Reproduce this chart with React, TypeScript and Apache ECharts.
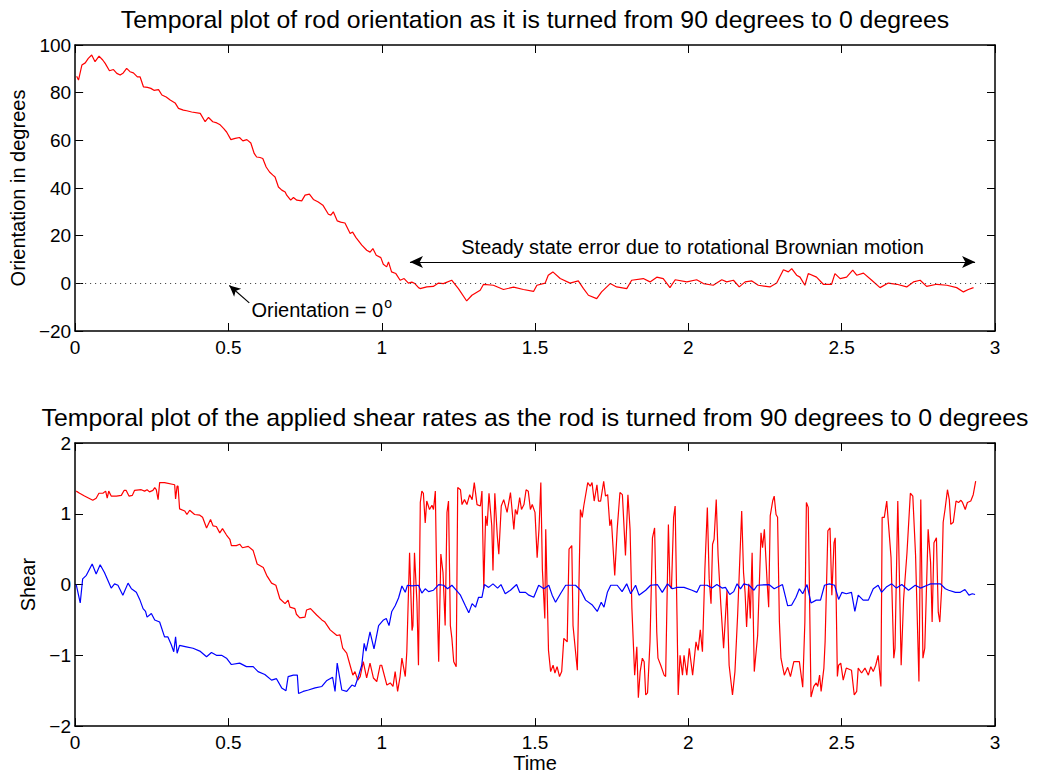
import React, { useEffect, useRef } from 'react';
import * as echarts from 'echarts';

const FONT = '"Liberation Sans", Arial, Helvetica, sans-serif';

const titleTop = 'Temporal plot of rod orientation as it is turned from 90 degrees to 0 degrees';
const titleBottom = 'Temporal plot of the applied shear rates as the rod is turned from 90 degrees to 0 degrees';
const steadyText = 'Steady state error due to rotational Brownian motion';
const zeroText = 'Orientation = 0{s|o}';

// [time, orientation in degrees]
const orientation: [number, number][] = [
  [0.005, 86.9], [0.011, 85.3], [0.022, 91.6], [0.033, 92.5], [0.043, 94.4], [0.054, 95.8], [0.065, 93], [0.078, 95.3],
  [0.09, 93.7], [0.098, 92.3], [0.112, 89.2], [0.125, 89.7], [0.136, 88.1], [0.147, 87.4], [0.157, 88.3], [0.168, 90.2],
  [0.179, 88.8], [0.19, 88.3], [0.203, 86.6], [0.212, 86.6], [0.223, 82.4], [0.236, 82.2], [0.247, 81.8], [0.257, 81],
  [0.272, 81.3], [0.283, 79], [0.297, 78.2], [0.31, 76.9], [0.326, 75.7], [0.337, 73.4], [0.353, 72.7], [0.364, 72.4],
  [0.38, 71.9], [0.408, 71.3], [0.424, 67.8], [0.435, 69.6], [0.449, 67.8], [0.462, 67.3], [0.473, 66.5], [0.484, 65],
  [0.494, 63.5], [0.508, 60.3], [0.522, 60.8], [0.536, 61.2], [0.547, 59.8], [0.56, 60.3], [0.573, 58.9], [0.584, 54.5],
  [0.592, 53], [0.603, 52.8], [0.612, 52.4], [0.623, 48.8], [0.634, 46.7], [0.645, 45.4], [0.652, 44.6], [0.663, 40.4],
  [0.674, 39.1], [0.685, 38.3], [0.69, 37], [0.703, 34.9], [0.712, 36], [0.723, 34.9], [0.739, 34.6], [0.75, 37],
  [0.764, 37.4], [0.777, 35.2], [0.793, 34.1], [0.808, 32.8], [0.826, 29], [0.834, 28.6], [0.842, 30], [0.855, 26.2],
  [0.866, 25.7], [0.88, 25.3], [0.897, 20.9], [0.905, 21.5], [0.916, 19.2], [0.935, 16], [0.951, 13.9], [0.962, 13.1],
  [0.971, 14.6], [0.982, 11.8], [0.997, 10.8], [1.005, 8], [1.016, 6.9], [1.022, 9], [1.032, 4.8], [1.046, 4.1],
  [1.06, 1.3], [1.073, 2], [1.087, 0.1], [1.098, 0.5], [1.108, -0.1], [1.12, -1.8], [1.125, -2.2], [1.147, -1.5],
  [1.168, -1.3], [1.185, 0.1], [1.201, -0.1], [1.228, 1.3], [1.25, -2.2], [1.277, -7.4], [1.294, -5], [1.321, -2.9],
  [1.332, -0.4], [1.364, -0.8], [1.397, -2.6], [1.43, -1.6], [1.462, -2.6], [1.495, -3.4], [1.506, -0.8], [1.533, 0.1],
  [1.543, 3.4], [1.558, 4.8], [1.582, 2], [1.614, 0.1], [1.641, 1], [1.658, -2.2], [1.674, -5], [1.701, -6.4],
  [1.717, -3.6], [1.745, -0.1], [1.766, -1.5], [1.799, -2.2], [1.815, 1.3], [1.853, 2], [1.875, 0.6], [1.897, 2.6],
  [1.918, 2], [1.94, -1.8], [1.957, 1.5], [1.995, 0.6], [2.027, 1.5], [2.049, -0.1], [2.081, -0.8], [2.109, 1.5],
  [2.125, 0.6], [2.147, 1.3], [2.166, -1.5], [2.185, 0.6], [2.207, 1], [2.228, -0.8], [2.266, -1.5], [2.288, 0.1],
  [2.31, 5.7], [2.326, 4.8], [2.337, 6.2], [2.353, 3.4], [2.364, 2.6], [2.38, -0.8], [2.391, 4.1], [2.418, 2.6],
  [2.44, -0.4], [2.467, -0.4], [2.478, 4.1], [2.495, 2], [2.516, 2.6], [2.536, 5.5], [2.549, 3.4], [2.571, 4.3],
  [2.598, 1.3], [2.625, -1.8], [2.652, 0.1], [2.68, -0.4], [2.712, -1.5], [2.734, 0.6], [2.756, 1.3], [2.777, -1.3],
  [2.81, -0.4], [2.843, -0.8], [2.875, -1.8], [2.897, -3.6], [2.913, -2.6], [2.93, -1.8],
];

// [time, shear] red component
const shearRed: [number, number][] = [
  [0.004, 1.32], [0.015, 1.29], [0.031, 1.25], [0.058, 1.19], [0.069, 1.22], [0.078, 1.29], [0.091, 1.29], [0.1, 1.32],
  [0.105, 1.22], [0.11, 1.32], [0.118, 1.25], [0.135, 1.25], [0.151, 1.26], [0.16, 1.33], [0.167, 1.33], [0.176, 1.25],
  [0.187, 1.26], [0.194, 1.33], [0.216, 1.34], [0.227, 1.32], [0.235, 1.34], [0.243, 1.31], [0.254, 1.33], [0.26, 1.37],
  [0.265, 1.34], [0.271, 1.2], [0.276, 1.44], [0.292, 1.44], [0.325, 1.41], [0.328, 1.21], [0.333, 1.39], [0.336, 1.39],
  [0.341, 1.07], [0.358, 1.04], [0.365, 0.99], [0.374, 1.05], [0.39, 0.99], [0.407, 0.98], [0.416, 0.95], [0.429, 0.8],
  [0.442, 0.92], [0.45, 0.83], [0.461, 0.82], [0.472, 0.73], [0.481, 0.79], [0.494, 0.7], [0.505, 0.64], [0.51, 0.55],
  [0.526, 0.55], [0.537, 0.57], [0.546, 0.52], [0.565, 0.54], [0.581, 0.48], [0.594, 0.29], [0.614, 0.24], [0.625, 0.13],
  [0.641, 0.02], [0.655, -0.01], [0.668, -0.2], [0.685, -0.27], [0.695, -0.22], [0.701, -0.32], [0.717, -0.34], [0.722, -0.42],
  [0.733, -0.47], [0.75, -0.46], [0.755, -0.36], [0.768, -0.34], [0.788, -0.43], [0.805, -0.5], [0.815, -0.53], [0.832, -0.64],
  [0.854, -0.72], [0.864, -0.71], [0.873, -0.9], [0.886, -0.97], [0.897, -1.14], [0.906, -1.28], [0.913, -1.23], [0.922, -1.35],
  [0.93, -1.3], [0.94, -1.09], [0.951, -1.32], [0.962, -1.11], [0.973, -1.32], [0.984, -1.37], [0.995, -1.14], [1.0, -1.14],
  [1.017, -1.42], [1.028, -1.39], [1.037, -1.44], [1.044, -1.23], [1.052, -1.51], [1.06, -1.3], [1.066, -1.04], [1.077, -1.3],
  [1.082, -0.95], [1.091, 0.45], [1.099, -0.65], [1.102, -0.58], [1.107, 0.45], [1.115, -0.25], [1.12, -1.14], [1.126, 1.16],
  [1.131, 1.32], [1.136, 1.29], [1.142, 0.87], [1.147, 1.18], [1.156, 1.06], [1.164, 1.12], [1.169, 1.06], [1.175, 1.32],
  [1.18, -0.11], [1.186, -1.09], [1.193, 0.43], [1.2, 0.17], [1.207, -0.58], [1.213, 1.02], [1.218, 1.18], [1.224, -0.58],
  [1.229, -0.76], [1.235, -1.09], [1.243, -1.16], [1.248, 1.37], [1.257, 1.34], [1.262, 1.13], [1.27, 1.2], [1.278, 1.13],
  [1.287, 1.27], [1.295, 1.2], [1.302, 1.44], [1.311, 1.13], [1.322, 1.11], [1.327, 1.32], [1.333, -0.06], [1.339, 0.97],
  [1.344, 0.83], [1.35, 1.29], [1.359, 0.83], [1.363, 0.2], [1.369, 1.29], [1.377, 0.69], [1.382, 0.43], [1.39, 1.11],
  [1.398, 1.2], [1.409, 1.02], [1.42, 1.3], [1.431, 0.78], [1.436, 1.06], [1.442, 0.99], [1.45, 1.23], [1.456, 1.06],
  [1.464, 1.13], [1.471, 1.34], [1.478, 1.32], [1.485, 1.06], [1.491, 1.13], [1.5, 1.02], [1.507, 0.38], [1.513, 0.78],
  [1.519, 1.44], [1.524, 0.22], [1.532, -0.48], [1.535, 0.78], [1.544, -0.93], [1.551, -1.23], [1.559, -1.14], [1.565, -1.25],
  [1.572, -1.16], [1.58, -1.3], [1.587, -1.23], [1.594, -0.76], [1.605, -0.81], [1.611, 0.5], [1.62, 0.55], [1.624, -0.58],
  [1.638, -1.21], [1.648, 1.06], [1.654, 0.95], [1.659, 1.11], [1.672, 1.44], [1.68, 1.39], [1.686, 1.44], [1.693, 1.18],
  [1.702, 1.41], [1.707, 1.18], [1.714, 1.18], [1.724, 1.46], [1.73, 1.25], [1.737, 1.27], [1.744, 0.83], [1.749, 0.92],
  [1.76, 0.13], [1.768, 0.78], [1.777, 1.3], [1.785, 1.27], [1.795, 0.41], [1.803, 1.27], [1.81, 0.78], [1.816, -0.34],
  [1.825, -1.28], [1.832, -0.88], [1.837, -1.6], [1.843, -1.23], [1.85, -1.04], [1.856, -1.09], [1.861, -1.56], [1.867, -1.53],
  [1.875, -0.81], [1.883, 0.66], [1.89, 0.8], [1.897, -0.67], [1.901, -1.04], [1.91, -1.14], [1.921, -1.28], [1.926, -1.3],
  [1.935, 0.85], [1.94, -0.01], [1.945, -0.06], [1.952, 0.95], [1.957, 1.11], [1.963, -0.43], [1.967, -1.56], [1.973, -1.0],
  [1.981, -1.28], [1.986, -1.0], [1.995, -1.28], [2.003, -0.9], [2.014, -1.28], [2.025, -0.81], [2.032, -0.93], [2.039, -0.64],
  [2.046, -0.95], [2.054, 0.22], [2.062, 1.09], [2.068, 0.08], [2.074, -0.27], [2.079, 0.57], [2.084, 0.64], [2.091, 1.2],
  [2.097, 0.41], [2.106, -0.29], [2.115, -0.9], [2.126, -0.08], [2.133, -1.14], [2.144, -1.56], [2.152, -1.23], [2.161, -0.41],
  [2.174, 1.04], [2.18, 0.17], [2.185, -0.11], [2.19, -0.6], [2.197, 0.01], [2.202, -0.48], [2.208, 0.45], [2.215, -1.23],
  [2.226, -0.72], [2.237, 0.73], [2.242, 0.52], [2.248, 0.78], [2.257, 0.03], [2.262, -0.32], [2.267, 0.97], [2.275, 1.18],
  [2.28, 1.25], [2.286, 0.99], [2.291, 0.95], [2.297, -0.53], [2.302, -1.04], [2.313, -1.28], [2.324, -1.17], [2.333, -1.3],
  [2.344, -1.09], [2.362, -1.09], [2.373, -1.45], [2.38, -0.53], [2.385, 1.16], [2.391, 1.09], [2.4, -1.59], [2.409, -1.44],
  [2.417, -1.39], [2.422, -1.44], [2.428, -1.28], [2.433, -1.51], [2.442, -1.18], [2.446, -0.81], [2.455, 0.76], [2.462, 0.8],
  [2.468, -0.15], [2.475, 0.59], [2.479, 0.66], [2.486, -1.3], [2.49, -1.14], [2.497, -1.11], [2.505, -1.35], [2.515, -1.18],
  [2.532, -1.21], [2.541, -1.56], [2.549, -1.51], [2.554, -1.18], [2.565, -1.25], [2.576, -1.18], [2.587, -1.28], [2.595, -1.16],
  [2.603, -1.23], [2.611, -1.14], [2.619, -1.0], [2.628, -1.44], [2.632, 0.95], [2.639, 0.95], [2.647, 1.18], [2.654, 0.78],
  [2.661, 0.38], [2.67, -1.04], [2.674, -0.9], [2.683, 1.18], [2.688, 0.17], [2.694, -1.14], [2.702, -0.2], [2.713, 0.45],
  [2.724, 1.29], [2.732, 1.25], [2.741, 0.41], [2.752, -1.37], [2.758, 1.2], [2.765, -1.04], [2.771, -0.9], [2.782, 0.78],
  [2.79, 0.31], [2.795, -0.53], [2.801, 0.59], [2.809, 0.66], [2.815, -0.39], [2.82, -0.53], [2.826, -0.06], [2.831, 0.88],
  [2.837, 1.06], [2.845, 1.34], [2.851, 1.2], [2.856, 0.85], [2.864, 0.88], [2.873, 1.18], [2.881, 1.16], [2.889, 1.19],
  [2.894, 1.16], [2.903, 1.06], [2.91, 1.16], [2.921, 1.18], [2.929, 1.27], [2.937, 1.46],
];

// [time, shear] blue component
const shearBlue: [number, number][] = [
  [0.004, 0], [0.017, -0.26], [0.025, 0.08], [0.037, 0.13], [0.056, 0.29], [0.069, 0.15], [0.082, 0.28], [0.096, 0.17],
  [0.107, 0.06], [0.118, -0.05], [0.129, 0.01], [0.14, -0.01], [0.156, -0.15], [0.173, 0.02], [0.184, -0.06], [0.2, -0.11],
  [0.211, -0.21], [0.222, -0.34], [0.23, -0.38], [0.235, -0.46], [0.249, -0.41], [0.26, -0.5], [0.276, -0.53], [0.292, -0.74],
  [0.303, -0.74], [0.314, -0.85], [0.322, -0.95], [0.328, -0.74], [0.333, -0.97], [0.341, -0.86], [0.363, -0.88], [0.385, -0.9],
  [0.407, -0.94], [0.429, -1.02], [0.445, -0.96], [0.461, -1.0], [0.478, -1.0], [0.494, -1.04], [0.51, -1.13], [0.537, -1.11],
  [0.559, -1.16], [0.581, -1.16], [0.597, -1.23], [0.619, -1.27], [0.641, -1.35], [0.657, -1.33], [0.674, -1.46], [0.688, -1.5],
  [0.695, -1.3], [0.712, -1.28], [0.725, -1.28], [0.729, -1.54], [0.744, -1.51], [0.761, -1.49], [0.783, -1.46], [0.805, -1.44],
  [0.82, -1.36], [0.84, -1.31], [0.848, -1.51], [0.855, -1.11], [0.87, -1.49], [0.886, -1.51], [0.903, -1.42], [0.913, -1.44],
  [0.924, -1.3], [0.935, -1.14], [0.943, -0.83], [0.949, -0.94], [0.962, -0.67], [0.975, -0.91], [0.99, -0.58], [1.006, -0.5],
  [1.015, -0.48], [1.024, -0.58], [1.033, -0.38], [1.044, -0.3], [1.055, -0.19], [1.066, -0.02], [1.077, -0.11], [1.084, -0.01],
  [1.099, -0.02], [1.12, -0.01], [1.131, -0.12], [1.142, -0.06], [1.153, -0.1], [1.169, -0.08], [1.186, 0], [1.202, -0.01],
  [1.215, -0.06], [1.229, -0.01], [1.243, -0.08], [1.257, -0.15], [1.273, -0.3], [1.284, -0.4], [1.295, -0.27], [1.306, -0.32],
  [1.316, -0.18], [1.327, -0.18], [1.335, 0], [1.349, -0.04], [1.363, 0.01], [1.378, -0.05], [1.389, 0], [1.403, -0.13],
  [1.42, -0.08], [1.44, 0], [1.45, -0.11], [1.469, -0.11], [1.48, -0.15], [1.496, -0.18], [1.512, -0.01], [1.529, -0.06],
  [1.545, -0.01], [1.556, -0.15], [1.567, -0.25], [1.583, -0.13], [1.6, -0.01], [1.632, -0.01], [1.649, -0.08], [1.665, -0.22],
  [1.687, -0.29], [1.703, -0.38], [1.716, -0.25], [1.725, -0.32], [1.736, -0.11], [1.747, -0.01], [1.768, -0.01], [1.784, -0.1],
  [1.799, 0.01], [1.812, -0.13], [1.828, -0.01], [1.839, -0.15], [1.861, -0.08], [1.877, -0.01], [1.899, 0], [1.915, -0.11],
  [1.932, 0.01], [1.948, -0.06], [1.964, -0.04], [1.986, -0.04], [2.012, -0.08], [2.028, -0.11], [2.039, -0.01], [2.061, -0.01],
  [2.077, -0.05], [2.093, 0], [2.11, -0.05], [2.121, -0.04], [2.135, -0.14], [2.148, -0.1], [2.159, 0.01], [2.17, -0.06],
  [2.181, 0.01], [2.198, -0.01], [2.214, -0.08], [2.225, -0.01], [2.263, 0], [2.28, -0.06], [2.307, 0], [2.324, -0.3],
  [2.337, -0.29], [2.351, -0.18], [2.362, -0.06], [2.373, -0.13], [2.387, 0], [2.4, -0.26], [2.417, -0.22], [2.431, -0.22],
  [2.444, -0.01], [2.46, 0.01], [2.477, -0.01], [2.49, -0.21], [2.501, -0.11], [2.515, -0.13], [2.532, -0.11], [2.543, -0.38],
  [2.554, -0.15], [2.57, -0.22], [2.587, -0.22], [2.603, -0.06], [2.619, -0.01], [2.63, -0.11], [2.647, -0.03], [2.663, 0.01],
  [2.679, -0.05], [2.696, 0], [2.718, -0.08], [2.74, -0.01], [2.757, -0.05], [2.779, -0.01], [2.79, 0.01], [2.822, 0.01],
  [2.838, -0.06], [2.849, -0.08], [2.871, -0.11], [2.887, -0.11], [2.902, -0.07], [2.915, -0.15], [2.926, -0.13], [2.935, -0.14],
];

// annotation anchors, in data units of the upper plot
const zeroLine: [number, number][] = [[0, 0], [3, 0]];
const zeroArrow: [number, number][] = [[0.568, -8.2], [0.503, -0.9]];
const zeroLabelAt: [number, number] = [0.575, -11];
const steadyArrow: [number, number][] = [[1.092, 8.9], [2.935, 8.9]];

const TICK = 19;
const LABEL = 20;
const TITLE = 24.8;

function minus(v: number) {
  return String(v).replace('-', '\u2212');
}

function xAxisPair(gridIndex: number, name?: string) {
  const base = {
    type: 'value',
    gridIndex,
    min: 0,
    max: 3,
    interval: 0.5,
    splitLine: { show: false },
    axisLine: { show: true, onZero: false, lineStyle: { color: '#000', width: 1.5 } },
    axisTick: { show: true, inside: true, length: 8, lineStyle: { color: '#000', width: 1 } },
  };
  return [
    {
      ...base,
      position: 'bottom',
      name,
      nameLocation: 'middle',
      nameGap: 23,
      nameTextStyle: { fontSize: LABEL, color: '#000', fontFamily: FONT },
      axisLabel: {
        show: true,
        margin: 7,
        fontSize: TICK,
        color: '#000',
        fontFamily: FONT,
        showMinLabel: true,
        showMaxLabel: true,
        formatter: (v: number) => minus(v),
      },
    },
    { ...base, position: 'top', axisLabel: { show: false } },
  ];
}

function yAxisPair(gridIndex: number, min: number, max: number, interval: number, name: string, nameGap: number) {
  const base = {
    type: 'value',
    gridIndex,
    min,
    max,
    interval,
    splitLine: { show: false },
    axisLine: { show: true, onZero: false, lineStyle: { color: '#000', width: 1.5 } },
    axisTick: { show: true, inside: true, length: 8, lineStyle: { color: '#000', width: 1 } },
  };
  return [
    {
      ...base,
      position: 'left',
      name,
      nameLocation: 'middle',
      nameGap,
      nameTextStyle: { fontSize: LABEL, color: '#000', fontFamily: FONT },
      axisLabel: {
        show: true,
        margin: 4,
        fontSize: TICK,
        color: '#000',
        fontFamily: FONT,
        showMinLabel: true,
        showMaxLabel: true,
        formatter: (v: number) => minus(v),
      },
    },
    { ...base, position: 'right', axisLabel: { show: false } },
  ];
}

export default function App() {
  const ref = useRef<HTMLDivElement>(null);

  useEffect(() => {
    if (!ref.current) return;
    const chart = echarts.init(ref.current, null, { renderer: 'svg' });
    const blackLine = { color: '#000', width: 1.2, type: 'solid' };
    chart.setOption({
      animation: false,
      backgroundColor: '#fff',
      textStyle: { fontFamily: FONT },
      graphic: [
        {
          type: 'text',
          x: 535,
          y: 19.5,
          silent: true,
          style: { text: titleTop, fontSize: TITLE, fontFamily: FONT, fill: '#000', align: 'center', verticalAlign: 'middle' },
        },
        {
          type: 'text',
          x: 535,
          y: 417,
          silent: true,
          style: { text: titleBottom, fontSize: TITLE, fontFamily: FONT, fill: '#000', align: 'center', verticalAlign: 'middle' },
        },
      ],
      grid: [
        { left: 75, top: 45, width: 920, height: 286, containLabel: false },
        { left: 75, top: 443, width: 920, height: 285, containLabel: false },
      ],
      xAxis: [...xAxisPair(0), ...xAxisPair(1, 'Time')],
      yAxis: [
        ...yAxisPair(0, -20, 100, 20, 'Orientation in degrees', 42),
        ...yAxisPair(1, -2, 2, 1, 'Shear', 29),
      ],
      series: [
        {
          type: 'line',
          xAxisIndex: 0,
          yAxisIndex: 0,
          data: orientation,
          symbol: 'none',
          showSymbol: false,
          silent: true,
          lineStyle: { color: '#ff0000', width: 1.2 },
          itemStyle: { color: '#ff0000' },
          markLine: {
            silent: true,
            symbol: ['none', 'none'],
            lineStyle: blackLine,
            label: { show: false },
            emphasis: { disabled: true },
            data: [
              [
                { coord: zeroLine[0], symbol: 'none', lineStyle: { color: '#333', width: 1, type: [1, 4] } },
                { coord: zeroLine[1], symbol: 'none' },
              ],
              [
                { coord: zeroArrow[0], symbol: 'none', lineStyle: blackLine },
                { coord: zeroArrow[1], symbol: 'arrow', symbolSize: [8, 11] },
              ],
              [
                {
                  coord: steadyArrow[0],
                  symbol: 'arrow',
                  symbolSize: [9, 13],
                  lineStyle: blackLine,
                  label: {
                    show: true,
                    position: 'middle',
                    distance: 5,
                    formatter: steadyText,
                    fontSize: LABEL,
                    color: '#000',
                    fontFamily: FONT,
                  },
                },
                { coord: steadyArrow[1], symbol: 'arrow', symbolSize: [9, 13] },
              ],
            ],
          },
          markPoint: {
            silent: true,
            data: [
              {
                coord: zeroLabelAt,
                symbol: 'circle',
                symbolSize: 0,
                itemStyle: { color: 'rgba(0,0,0,0)' },
                label: {
                  show: true,
                  position: 'right',
                  distance: 0,
                  formatter: zeroText,
                  fontSize: LABEL,
                  color: '#000',
                  fontFamily: FONT,
                  rich: {
                    s: { fontSize: 14, color: '#000', fontFamily: FONT, padding: [0, 0, 13, 1] },
                  },
                },
              },
            ],
          },
        },
        {
          type: 'line',
          xAxisIndex: 2,
          yAxisIndex: 2,
          data: shearRed,
          symbol: 'none',
          showSymbol: false,
          silent: true,
          lineStyle: { color: '#ff0000', width: 1.2 },
          itemStyle: { color: '#ff0000' },
        },
        {
          type: 'line',
          xAxisIndex: 2,
          yAxisIndex: 2,
          data: shearBlue,
          symbol: 'none',
          showSymbol: false,
          silent: true,
          lineStyle: { color: '#0000ff', width: 1.2 },
          itemStyle: { color: '#0000ff' },
        },
      ],
    });
    return () => chart.dispose();
  }, []);

  return (
    <div
      ref={ref}
      style={{ position: 'absolute', left: 0, top: 0, width: 1041, height: 774, background: '#fff' }}
    />
  );
}
